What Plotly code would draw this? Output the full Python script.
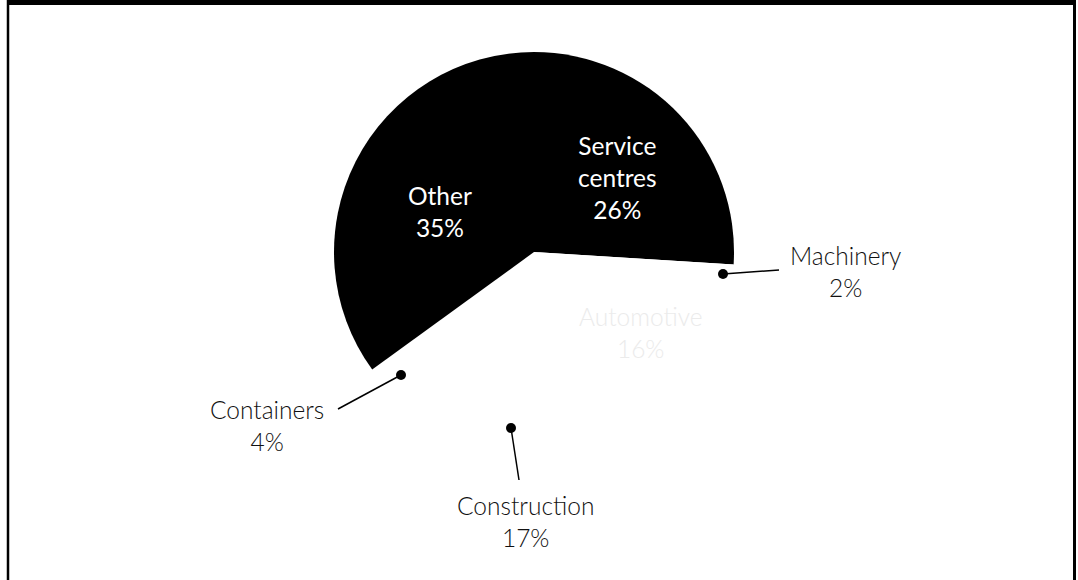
import plotly.graph_objects as go

# ---- data ----
categories = ["Service centres", "Machinery", "Automotive", "Construction", "Containers", "Other"]
shares = [26, 2, 16, 17, 4, 35]
slice_colors = ["#000000", "#ffffff", "#ffffff", "#ffffff", "#ffffff", "#000000"]

W, H = 1078, 580
def px(x):
    return x / W
def py(y):
    return 1 - y / H

# pie placement (pixels): centre (534, 252), radius 200
cx, cy, r = 534, 252, 200

fig = go.Figure(go.Pie(
    labels=categories,
    values=shares,
    sort=False,
    direction="clockwise",
    rotation=0,
    marker=dict(colors=slice_colors, line=dict(width=0)),
    textinfo="none",
    hoverinfo="label+percent",
    showlegend=False,
    domain=dict(x=[px(cx - r), px(cx + r)], y=[py(cy + r), py(cy - r)]),
))

FONT = "Lato"
annotations = []
def label(text, x, y, color, size=24.5, weight=300):
    annotations.append(dict(
        text=text, x=px(x), y=py(y), xref="paper", yref="paper",
        showarrow=False, xanchor="center", yanchor="middle", align="center",
        font=dict(family=FONT, size=size, color=color, weight=weight),
    ))

pct = {c: f"{v}%" for c, v in zip(categories, shares)}
label(f"Service<br>centres<br>{pct['Service centres']}", 617, 177, "#ffffff", weight=400)
label(f"{categories[5]}<br>{pct['Other']}", 440, 211, "#ffffff", weight=400)
label(f"{categories[1]}<br>{pct['Machinery']}", 845, 271, "#111111")
label(f"{categories[4]}<br>{pct['Containers']}", 267, 425, "#111111")
label(f"{categories[3]}<br>{pct['Construction']}", 525, 521, "#111111")
label(f"{categories[2]}<br>{pct['Automotive']}", 640, 332, "#ebebeb")

shapes = []
def leader(dot, end):
    shapes.append(dict(type="line", xref="paper", yref="paper",
                       x0=px(dot[0]), y0=py(dot[1]), x1=px(end[0]), y1=py(end[1]),
                       line=dict(color="#000000", width=1.5)))
    rr = 5
    shapes.append(dict(type="circle", xref="paper", yref="paper",
                       x0=px(dot[0] - rr), x1=px(dot[0] + rr),
                       y0=py(dot[1] + rr), y1=py(dot[1] - rr),
                       fillcolor="#000000", line=dict(width=0)))

leader((723, 274), (779, 270))
leader((401, 375), (338, 409))
leader((511, 428), (519, 480))

# frame
shapes.append(dict(type="line", xref="paper", yref="paper", x0=px(7), x1=px(1076), y0=py(2.5), y1=py(2.5),
                   line=dict(color="#000000", width=5)))
shapes.append(dict(type="line", xref="paper", yref="paper", x0=px(8), x1=px(8), y0=py(0), y1=py(580),
                   line=dict(color="#000000", width=2.5)))
shapes.append(dict(type="line", xref="paper", yref="paper", x0=px(1074.5), x1=px(1074.5), y0=py(0), y1=py(580),
                   line=dict(color="#000000", width=3)))

fig.update_layout(
    width=W, height=H,
    margin=dict(l=0, r=0, t=0, b=0),
    paper_bgcolor="#ffffff",
    plot_bgcolor="#ffffff",
    annotations=annotations,
    shapes=shapes,
)

fig.write_html("out.html",
               config={"displayModeBar": False},
               post_script="document.body.style.margin='0';document.body.style.overflow='hidden';")
